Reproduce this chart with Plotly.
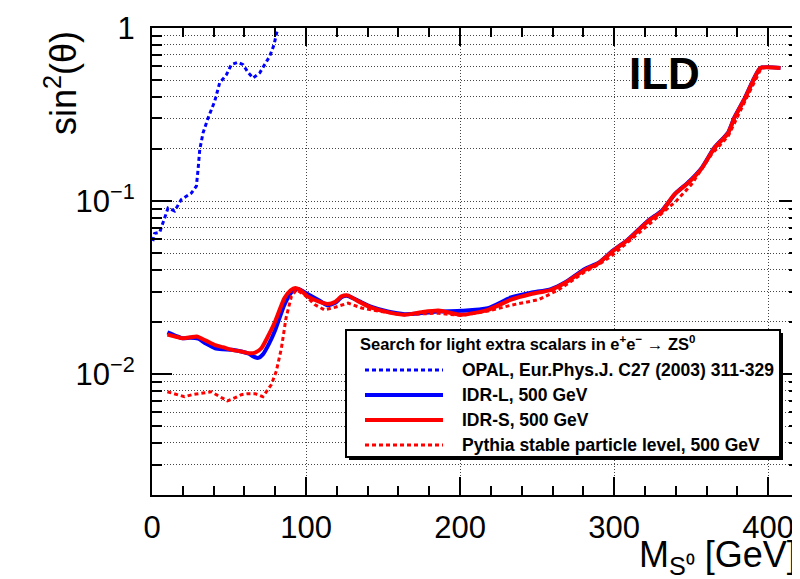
import plotly.graph_objects as go
import math

# ---------------- data ----------------
opal_m = [0.5, 1.7, 5, 7.1, 10.4, 14.7, 19, 25.5, 28.8, 29.9, 31, 33.1, 36.4, 40.7, 43.9,
          48.3, 51.5, 55.8, 59.1, 62.3, 65.6, 69.9, 73.1, 76.4, 79.2, 81.4]
opal_v = [0.0587, 0.065, 0.066, 0.0746, 0.091, 0.0875, 0.102, 0.111, 0.122, 0.152, 0.198,
          0.247, 0.302, 0.377, 0.481, 0.537, 0.614, 0.634, 0.614, 0.555, 0.514, 0.55, 0.614,
          0.686, 0.80, 0.977]

idrl_m = [10, 15, 20, 25, 30, 35, 41, 46, 52, 58, 63, 66, 69, 72, 76, 80, 86, 91, 95, 101,
          108, 114, 119, 123, 127, 134, 142, 153, 164, 175, 186, 201, 218, 233, 246, 259,
          268, 281, 290, 299, 309, 322, 331, 340, 348, 357, 365, 374, 378, 385, 390, 395, 408]
idrl_v = [0.0174, 0.0167, 0.0161, 0.0162, 0.0160, 0.0150, 0.0141, 0.0139, 0.0138, 0.0135,
          0.0131, 0.0126, 0.0124, 0.0130, 0.0150, 0.0180, 0.0252, 0.0300, 0.0310, 0.0290,
          0.0268, 0.0250, 0.0258, 0.0278, 0.0283, 0.0265, 0.0245, 0.0230, 0.0222, 0.0225,
          0.0230, 0.0232, 0.0240, 0.0277, 0.0295, 0.0310, 0.0338, 0.0405, 0.0440, 0.0515,
          0.0600, 0.0770, 0.0880, 0.111, 0.128, 0.156, 0.203, 0.249, 0.303, 0.396, 0.494,
          0.588, 0.588]

idrs_m = [10, 15, 20, 25, 29, 35, 41, 46, 52, 58, 63, 67, 71, 76, 80, 86, 90, 93, 97, 101,
          108, 114, 119, 123, 127, 134, 142, 153, 164, 175, 186, 201, 218, 233, 246, 259,
          268, 281, 290, 299, 309, 322, 331, 339, 348, 357, 365, 374, 378, 385, 390, 395, 408]
idrs_v = [0.0169, 0.0165, 0.0161, 0.0163, 0.0165, 0.0156, 0.0147, 0.0143, 0.0138, 0.0135,
          0.0132, 0.0133, 0.0141, 0.0170, 0.0202, 0.0275, 0.0305, 0.0314, 0.0302, 0.0281,
          0.0263, 0.0254, 0.0262, 0.0281, 0.0285, 0.0263, 0.0243, 0.0228, 0.0220, 0.0228,
          0.0233, 0.0220, 0.0235, 0.0269, 0.0290, 0.0307, 0.0336, 0.0400, 0.0438, 0.0512,
          0.0598, 0.0764, 0.0872, 0.109, 0.127, 0.155, 0.202, 0.247, 0.302, 0.394, 0.492,
          0.587, 0.587]

pyth_m = [10, 16, 21, 26, 30, 34, 38.5, 44, 49, 54, 58, 62, 67, 72, 77.5, 80.7, 84, 87,
          90.5, 93.7, 99, 105.6, 112, 118.6, 125, 127.3, 136, 147, 164, 185, 201, 218, 233,
          251, 264, 281, 290, 298, 316, 329, 340, 350, 363, 374, 380.5, 387, 392.4, 395]
pyth_v = [0.0079, 0.0076, 0.0074, 0.0076, 0.0077, 0.0078, 0.0079, 0.0074, 0.0070, 0.0073,
          0.0076, 0.0077, 0.0077, 0.0074, 0.0087, 0.0104, 0.0141, 0.0211, 0.0281, 0.0307,
          0.0287, 0.0252, 0.0235, 0.0243, 0.0252, 0.0257, 0.0241, 0.0231, 0.0220, 0.0225,
          0.0218, 0.0231, 0.0250, 0.0269, 0.0307, 0.0390, 0.0430, 0.0479, 0.0653, 0.0815,
          0.0995, 0.124, 0.185, 0.237, 0.315, 0.412, 0.514, 0.575]

legend_title = "Search for light extra scalars in e<sup>+</sup>e<sup>−</sup> → ZS<sup>0</sup>"
legend_labels = ["OPAL, Eur.Phys.J. C27 (2003) 311-329", "IDR-L, 500 GeV",
                 "IDR-S, 500 GeV", "Pythia stable particle level, 500 GeV"]

x_ticks = [0, 100, 200, 300, 400]
x_minor = [v for v in range(20, 421, 20) if v % 100 != 0]
y_ticks = [0.01, 0.1, 1]
y_ticktext = ["10<sup>−2</sup>", "10<sup>−1</sup>", "1"]
y_minor = [k * 10.0 ** e for e in (-3, -2, -1) for k in range(2, 10) if k * 10.0 ** e >= 0.002]

# ---------------- layout helpers ----------------
W, H = 800, 579
L, R, T, B = 144, 9, 20, 92
PW, PH = W - L - R, H - T - B


def px(x):
    return (x - L) / PW


def py(y):
    return (H - B - y) / PH


FONT = "Liberation Sans, Arial, Helvetica, sans-serif"
BLUE = "rgb(0,0,255)"
RED = "rgb(255,0,0)"
DOT = "4px,3px"
GRID = "#444"
GDASH = "1px,2px"

fig = go.Figure()
fig.add_trace(go.Scatter(x=opal_m, y=opal_v, mode="lines",
                         line=dict(color=BLUE, width=3, dash=DOT), showlegend=False))
fig.add_trace(go.Scatter(x=idrl_m, y=idrl_v, mode="lines",
                         line=dict(color=BLUE, width=4, shape="spline", smoothing=0.6),
                         showlegend=False))
fig.add_trace(go.Scatter(x=pyth_m, y=pyth_v, mode="lines",
                         line=dict(color=RED, width=3, dash=DOT), showlegend=False))
fig.add_trace(go.Scatter(x=idrs_m, y=idrs_v, mode="lines",
                         line=dict(color=RED, width=4, shape="spline", smoothing=0.6),
                         showlegend=False))

shapes = []
annotations = []

# ILD label with white background
shapes.append(dict(type="rect", xref="paper", yref="paper", layer="between",
                   x0=px(607), x1=px(707), y0=py(95), y1=py(40),
                   fillcolor="white", line=dict(width=0)))
annotations.append(dict(xref="paper", yref="paper", x=px(656), y=py(66),
                        text="<b>ILD</b>", showarrow=False, xanchor="center", yanchor="middle",
                        font=dict(family=FONT, size=44, color="black")))

# legend box (shadow + box)
lx0, lx1, ly0, ly1 = 338, 772, 322, 449
shapes.append(dict(type="rect", xref="paper", yref="paper", layer="above",
                   x0=px(lx0 + 3), x1=px(lx1 + 3), y0=py(ly1 + 3), y1=py(ly0 + 3),
                   fillcolor="black", line=dict(width=0)))
shapes.append(dict(type="rect", xref="paper", yref="paper", layer="above",
                   x0=px(lx0), x1=px(lx1), y0=py(ly1), y1=py(ly0),
                   fillcolor="white", line=dict(color="black", width=2)))
annotations.append(dict(xref="paper", yref="paper", x=px(350), y=py(335),
                        text="<b>" + legend_title + "</b>", showarrow=False,
                        xanchor="left", yanchor="middle",
                        font=dict(family=FONT, size=16.5, color="black")))
styles = [(BLUE, 3, DOT), (BLUE, 4, "solid"), (RED, 4, "solid"), (RED, 3, DOT)]
ys = [362, 387, 412, 437]
for (c, w, d), yy, lab in zip(styles, ys, legend_labels):
    shapes.append(dict(type="line", xref="paper", yref="paper", layer="above",
                       x0=px(357), x1=px(435), y0=py(yy), y1=py(yy),
                       line=dict(color=c, width=w, dash=d)))
    annotations.append(dict(xref="paper", yref="paper", x=px(452), y=py(yy),
                            text="<b>" + lab + "</b>", showarrow=False,
                            xanchor="left", yanchor="middle",
                            font=dict(family=FONT, size=17.5, color="black")))

# axis titles
annotations.append(dict(xref="paper", yref="paper", x=px(53), y=py(21),
                        text="sin<sup>2</sup>(θ)", textangle=-90, showarrow=False,
                        xanchor="center", yanchor="top",
                        font=dict(family=FONT, size=36, color="black")))
annotations.append(dict(xref="paper", yref="paper", x=px(791), y=py(549),
                        text="M<sub>S⁰</sub> [GeV]", showarrow=False,
                        xanchor="right", yanchor="middle",
                        font=dict(family=FONT, size=36, color="black")))

fig.update_layout(
    width=W, height=H,
    margin=dict(l=L, r=R, t=T, b=B, autoexpand=False),
    paper_bgcolor="white", plot_bgcolor="white",
    shapes=shapes, annotations=annotations,
    showlegend=False,
    font=dict(family=FONT, color="black"),
)
fig.update_xaxes(
    range=[0, 420], tickmode="array", tickvals=x_ticks, automargin=False,
    ticks="inside", ticklen=18, tickwidth=2, tickcolor="black",
    showline=True, linewidth=2, linecolor="black", mirror="allticks",
    showgrid=True, gridcolor=GRID, griddash=GDASH, gridwidth=1,
    zeroline=False, tickfont=dict(size=31, family=FONT, color="black"),
    ticklabelstandoff=4,
    minor=dict(tickmode="array", tickvals=x_minor, ticks="inside", ticklen=9,
               tickwidth=2, tickcolor="black", showgrid=False),
)
fig.update_yaxes(
    type="log", range=[math.log10(0.002), 0], tickmode="array", automargin=False,
    tickvals=y_ticks, ticktext=y_ticktext,
    ticks="inside", ticklen=20, tickwidth=2, tickcolor="black",
    showline=True, linewidth=2, linecolor="black", mirror="allticks",
    showgrid=True, gridcolor=GRID, griddash=GDASH, gridwidth=1,
    zeroline=False, tickfont=dict(size=31, family=FONT, color="black"),
    ticklabelstandoff=9,
    minor=dict(tickmode="array", tickvals=y_minor, ticks="inside", ticklen=10,
               tickwidth=2, tickcolor="black", showgrid=True, gridcolor=GRID,
               griddash=GDASH, gridwidth=1),
)

fig.write_html("out.html")
